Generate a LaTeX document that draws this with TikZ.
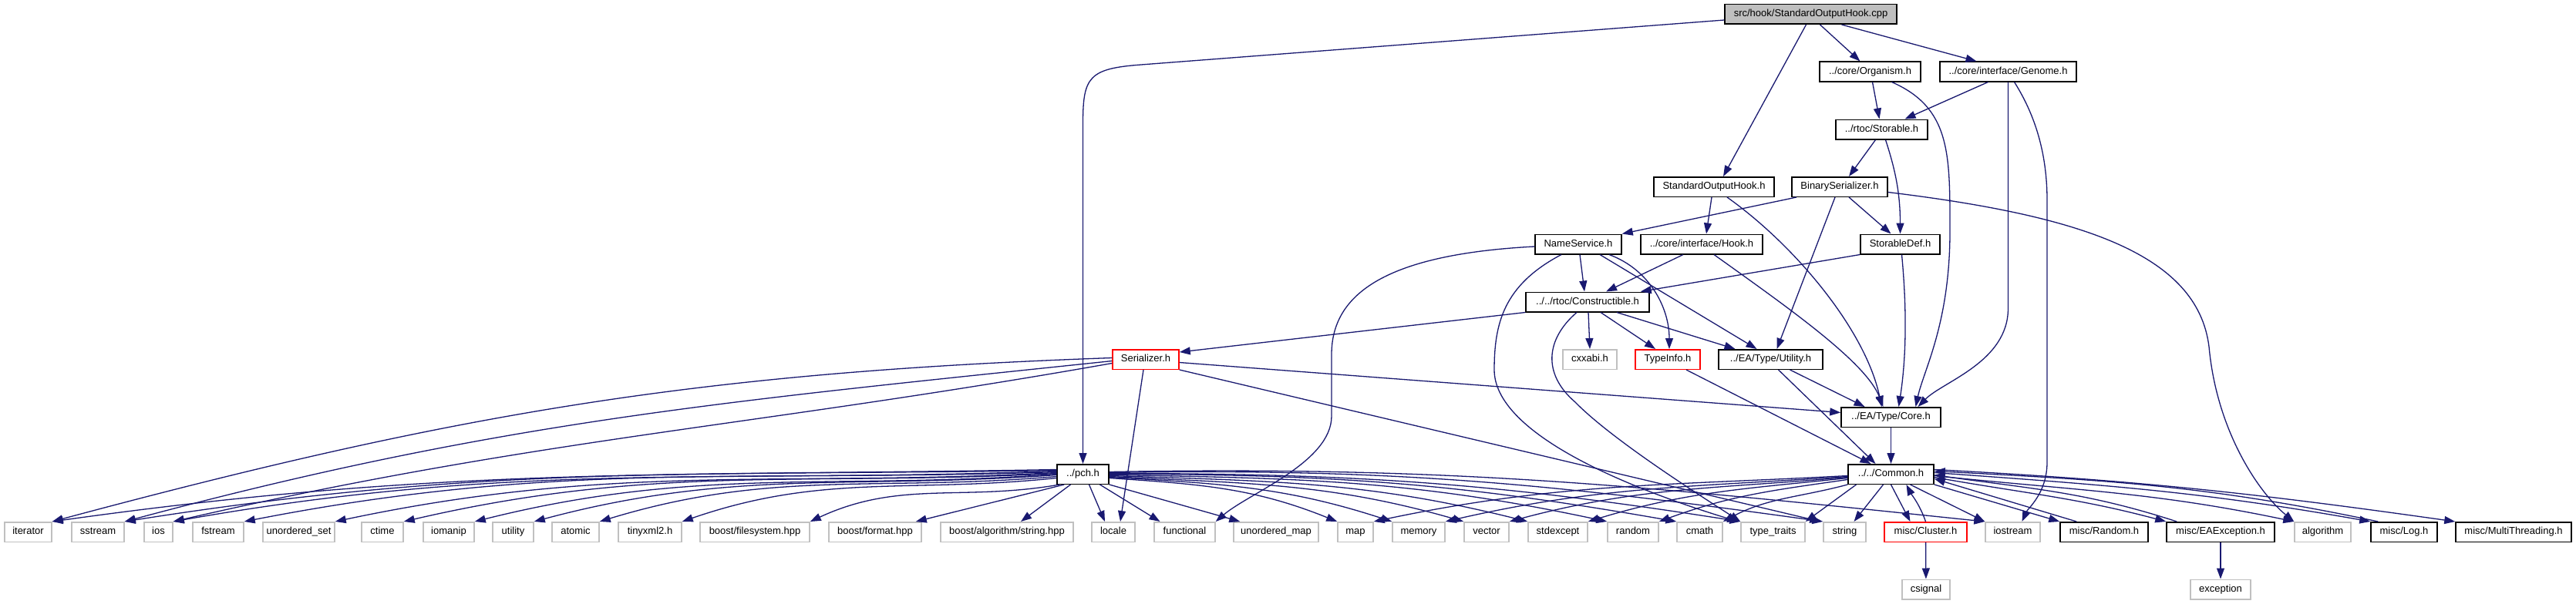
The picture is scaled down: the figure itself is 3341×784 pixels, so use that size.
\documentclass[tikz,border=0pt]{standalone}
\usepackage{fontspec}
\setmainfont{Liberation Sans}
\usetikzlibrary{arrows.meta}
\definecolor{edgeblue}{HTML}{191970}
\definecolor{rootgray}{HTML}{BFBFBF}
\definecolor{boxgray}{HTML}{C0C0C0}
\tikzset{
 base/.style={line width=1.5pt, fill=white, inner sep=0pt, minimum height=25.5pt,
   font=\fontsize{13pt}{15pt}\selectfont, text height=9.5pt, text depth=2.8pt},
 blackbox/.style={base, draw=black},
 graybox/.style={base, draw=boxgray},
 redbox/.style={base, draw=red},
 dep/.style={draw=edgeblue, line width=1.3pt, -{Triangle[length=14pt,width=10pt]}},
}
\begin{document}
\begin{tikzpicture}[x=1pt,y=1pt]
\fill[white] (0,0) rectangle (3341,-784);
\useasboundingbox (0,0) rectangle (3341,-784);

% upper nodes
\node[blackbox, fill=rootgray, minimum width=223pt] (root) at (2348.5,-18.5) {src/hook/StandardOutputHook.cpp};
\node[blackbox, minimum width=131pt] (org) at (2425.5,-93) {../core/Organism.h};
\node[blackbox, minimum width=177pt] (genome) at (2604.5,-93) {../core/interface/Genome.h};
\node[blackbox, minimum width=119pt] (storable) at (2440.5,-168) {../rtoc/Storable.h};
\node[blackbox, minimum width=156pt] (soh) at (2223,-242.5) {StandardOutputHook.h};
\node[blackbox, minimum width=124pt] (binser) at (2386,-242.5) {BinarySerializer.h};
\node[blackbox, minimum width=112pt] (namesvc) at (2047,-317) {NameService.h};
\node[blackbox, minimum width=158pt] (hook) at (2207,-317) {../core/interface/Hook.h};
\node[blackbox, minimum width=103pt] (stordef) at (2464.5,-317) {StorableDef.h};
\node[blackbox, minimum width=160pt] (constr) at (2059,-392) {../../rtoc/Constructible.h};
\node[redbox, minimum width=86pt] (serial) at (1486,-466.5) {Serializer.h};
\node[graybox, minimum width=70pt] (cxxabi) at (2062,-466.5) {cxxabi.h};
\node[redbox, minimum width=84pt] (typeinfo) at (2163,-466.5) {TypeInfo.h};
\node[blackbox, minimum width=135pt] (eautil) at (2296.5,-466.5) {../EA/Type/Utility.h};
\node[blackbox, minimum width=129pt] (core) at (2452.5,-541.5) {../EA/Type/Core.h};
\node[blackbox, minimum width=67pt] (pch) at (1404.5,-615.5) {../pch.h};
\node[blackbox, minimum width=111pt] (common) at (2452.5,-615.5) {../../Common.h};

% bottom row
\node[graybox, minimum width=61pt] (iterator) at (36.5,-690.5) {iterator};
\node[graybox, minimum width=68pt] (sstream) at (127,-690.5) {sstream};
\node[graybox, minimum width=37pt] (ios) at (205.5,-690.5) {ios};
\node[graybox, minimum width=66pt] (fstream) at (283,-690.5) {fstream};
\node[graybox, minimum width=93pt] (uset) at (387.5,-690.5) {unordered\_set};
\node[graybox, minimum width=54pt] (ctime) at (496,-690.5) {ctime};
\node[graybox, minimum width=66pt] (iomanip) at (582,-690.5) {iomanip};
\node[graybox, minimum width=53pt] (stdutility) at (665.5,-690.5) {utility};
\node[graybox, minimum width=61pt] (atomic) at (746.5,-690.5) {atomic};
\node[graybox, minimum width=82pt] (tinyxml) at (843,-690.5) {tinyxml2.h};
\node[graybox, minimum width=142pt] (bfs) at (979,-690.5) {boost/filesystem.hpp};
\node[graybox, minimum width=120pt] (bformat) at (1135,-690.5) {boost/format.hpp};
\node[graybox, minimum width=172pt] (balgo) at (1306,-690.5) {boost/algorithm/string.hpp};
\node[graybox, minimum width=56pt] (locale) at (1444,-690.5) {locale};
\node[graybox, minimum width=79pt] (functional) at (1536.5,-690.5) {functional};
\node[graybox, minimum width=110pt] (umap) at (1655,-690.5) {unordered\_map};
\node[graybox, minimum width=46pt] (map) at (1758,-690.5) {map};
\node[graybox, minimum width=68pt] (memory) at (1840,-690.5) {memory};
\node[graybox, minimum width=58pt] (vector) at (1928,-690.5) {vector};
\node[graybox, minimum width=77pt] (stdexcept) at (2020.5,-690.5) {stdexcept};
\node[graybox, minimum width=66pt] (random) at (2118,-690.5) {random};
\node[graybox, minimum width=59pt] (cmath) at (2204.5,-690.5) {cmath};
\node[graybox, minimum width=83pt] (typetraits) at (2299.5,-690.5) {type\_traits};
\node[graybox, minimum width=55pt] (string) at (2392.5,-690.5) {string};
\node[redbox, minimum width=107pt] (cluster) at (2497.5,-690.5) {misc/Cluster.h};
\node[graybox, minimum width=71pt] (iostream) at (2610.5,-690.5) {iostream};
\node[blackbox, minimum width=114pt] (mrandom) at (2729,-690.5) {misc/Random.h};
\node[blackbox, minimum width=140pt] (eaexc) at (2880,-690.5) {misc/EAException.h};
\node[graybox, minimum width=73pt] (algorithm) at (3012.5,-690.5) {algorithm};
\node[blackbox, minimum width=86pt] (log) at (3118,-690.5) {misc/Log.h};
\node[blackbox, minimum width=150pt] (multithr) at (3260,-690.5) {misc/MultiThreading.h};
\node[graybox, minimum width=62pt] (csignal) at (2498,-765) {csignal};
\node[graybox, minimum width=78pt] (exception) at (2880,-765) {exception};

% upper edges
\draw[dep] ([yshift=-7.5pt]root.west) -- (1480,-84) .. controls (1412,-89) and (1404.5,-100) .. (1404.5,-160) -- (pch.north);
\draw[dep] ([xshift=-6pt]root.south) -- ([xshift=12pt]soh.north);
\draw[dep] ([xshift=12pt]root.south) -- ([xshift=-13pt]org.north);
\draw[dep] ([xshift=40pt]root.south) -- ([xshift=-41pt]genome.north);
\draw[dep] ([xshift=3pt]org.south) -- ([xshift=-3pt]storable.north);
\draw[dep] ([xshift=-26pt]genome.south) -- ([xshift=30pt]storable.north);
\draw[dep] ([xshift=28pt]org.south) .. controls (2530,-140) and (2529,-200) .. (2529,-300) .. controls (2529,-420) and (2495,-480) .. ([xshift=32pt]core.north);
\draw[dep] (genome.south) -- (2604.5,-400) .. controls (2604.5,-470) and (2520,-495) .. ([xshift=35pt]core.north);
\draw[dep] ([xshift=8pt]genome.south) .. controls (2640,-150) and (2655,-200) .. (2655,-260) -- (2655,-600) .. controls (2655,-640) and (2630,-660) .. ([xshift=12pt]iostream.north);
\draw[dep] ([xshift=-8pt]storable.south) -- ([xshift=12pt]binser.north);
\draw[dep] ([xshift=5pt]storable.south) .. controls (2458,-220) and (2464.5,-250) .. (stordef.north);
\draw[dep] ([xshift=12pt]binser.south) -- ([xshift=-12pt]stordef.north);
\draw[dep] ([xshift=-56pt]binser.south) -- (namesvc.north east);
\draw[dep] ([xshift=-6pt]binser.south) -- ([xshift=8pt]eautil.north);
\draw[dep] ([yshift=-7pt]binser.east) .. controls (2700,-280) and (2850,-330) .. (2865,-450) .. controls (2875,-560) and (2930,-640) .. (algorithm.north west);
\draw[dep] ([xshift=-3pt]soh.south) -- ([xshift=6pt]hook.north);
\draw[dep] ([xshift=17pt]soh.south) .. controls (2330,-320) and (2420,-430) .. ([xshift=-12pt]core.north);
\draw[dep] ([xshift=-24pt]hook.south) -- ([xshift=24pt]constr.north);
\draw[dep] ([xshift=16pt]hook.south) .. controls (2320,-400) and (2420,-470) .. ([xshift=-10pt]core.north);
\draw[dep] (stordef.south west) -- ([xshift=-12pt]constr.north east);
\draw[dep] ([xshift=2pt]stordef.south) .. controls (2475,-420) and (2470,-480) .. ([xshift=10pt]core.north);
\draw[dep] ([xshift=2pt]namesvc.south) -- ([xshift=-4pt]constr.north);
\draw[dep] ([xshift=40pt]namesvc.south) .. controls (2140,-350) and (2165,-400) .. ([xshift=2pt]typeinfo.north);
\draw[dep] ([xshift=28pt]namesvc.south) -- ([xshift=-18pt]eautil.north);
\draw[dep] ([yshift=-3pt]namesvc.west) .. controls (1800,-330) and (1727,-380) .. (1727,-460) -- (1727,-540) .. controls (1727,-600) and (1620,-640) .. (functional.north east);
\draw[dep] ([xshift=-22pt]namesvc.south) .. controls (1950,-370) and (1938,-420) .. (1938,-480) .. controls (1938,-560) and (2100,-630) .. ([xshift=-3pt]typetraits.north west);
\draw[dep] ([xshift=-14pt]constr.south) .. controls (2005,-440) and (2000,-485) .. (2043,-522) .. controls (2090,-570) and (2200,-640) .. (typetraits.north west);
\draw[dep] (constr.south west) -- ([yshift=-4pt]serial.north east);
\draw[dep] ([xshift=1pt]constr.south) -- (cxxabi.north);
\draw[dep] ([xshift=17pt]constr.south) -- ([xshift=-16pt]typeinfo.north);
\draw[dep] ([xshift=38pt]constr.south) -- ([xshift=-46pt]eautil.north);
\draw[dep] ([xshift=24pt]typeinfo.south) -- ([xshift=-26pt]common.north);
\draw[dep] ([xshift=25pt]eautil.south) -- ([xshift=-34pt]core.north);
\draw[dep] ([xshift=10pt]eautil.south) -- ([xshift=-20pt]common.north);
\draw[dep] (core) -- (common);

% Serializer edges
\draw[dep] ([yshift=-4pt]serial.east) -- ([yshift=6pt]core.west);
\draw[dep] (serial.south east) -- ([xshift=-3pt]string.north west);
\draw[dep] ([xshift=-3pt]serial.south) -- ([xshift=9pt]locale.north);
\draw[dep] ([yshift=2pt]serial.west) .. controls +(-540,-19) and +(522,140) .. (iterator.north east);
\draw[dep] ([yshift=-2pt]serial.west) .. controls +(-502,-53) and +(488,131) .. (sstream.north east);
\draw[dep] ([yshift=-5pt]serial.west) .. controls +(-475,-84) and +(470,108) .. (ios.north east);

% pch edges
\draw[dep] ([yshift=6pt]pch.west) .. controls +(-510,-9) and +(505,71) .. (iterator.north east);
\draw[dep] ([yshift=5pt]pch.west) .. controls +(-473,-8) and +(467,74) .. (sstream.north east);
\draw[dep] ([yshift=4pt]pch.west) .. controls +(-448,-16) and +(441,78) .. (ios.north east);
\draw[dep] ([yshift=3pt]pch.west) .. controls +(-412,-14) and +(404,79) .. (fstream.north east);
\draw[dep] ([yshift=2pt]pch.west) .. controls +(-365,-19) and +(358,76) .. (uset.north east);
\draw[dep] ([yshift=1pt]pch.west) .. controls +(-331,-17) and +(323,75) .. (ctime.north east);
\draw[dep] (pch.west) .. controls +(-295,-21) and +(287,72) .. (iomanip.north east);
\draw[dep] ([yshift=-1pt]pch.west) .. controls +(-265,-19) and +(257,69) .. (stdutility.north east);
\draw[dep] ([yshift=-3pt]pch.west) .. controls +(-232,-20) and +(223,68) .. (atomic.north east);
\draw[dep] ([yshift=-5pt]pch.west) .. controls +(-191,-20) and +(182,63) .. (tinyxml.north east);
\draw[dep] ([xshift=4pt]pch.south west) .. controls +(-126,-22) and +(116,54) .. (bfs.north east);
\draw[dep] ([xshift=10pt]pch.south west) -- ([xshift=-8pt]bformat.north east);
\draw[dep] ([xshift=-16pt]pch.south) -- ([xshift=18pt]balgo.north);
\draw[dep] ([xshift=8pt]pch.south) -- ([xshift=-11pt]locale.north);
\draw[dep] ([xshift=22pt]pch.south) -- ([xshift=-32pt]functional.north);
\draw[dep] (pch.south east) -- ([xshift=9pt]umap.north west);
\draw[dep] ([yshift=-5pt]pch.east) .. controls +(118,-8) and +(-109,44) .. (map.north west);
\draw[dep] ([yshift=-4pt]pch.east) .. controls +(145,-8) and +(-138,45) .. (memory.north west);
\draw[dep] ([yshift=-3pt]pch.east) .. controls +(181,-9) and +(-174,50) .. (vector.north west);
\draw[dep] ([yshift=-2pt]pch.east) .. controls +(213,-7) and +(-207,52) .. (stdexcept.north west);
\draw[dep] ([yshift=-1pt]pch.east) .. controls +(253,-4) and +(-247,53) .. (random.north west);
\draw[dep] (pch.east) .. controls +(289,0) and +(-285,50) .. (cmath.north west);
\draw[dep] ([yshift=1pt]pch.east) .. controls +(321,0) and +(-317,50) .. (typetraits.north west);
\draw[dep] ([yshift=2pt]pch.east) .. controls +(362,6) and +(-358,50) .. (string.north west);
\draw[dep] ([yshift=3pt]pch.east) .. controls +(444,8) and +(-442,46) .. (iostream.north west);

% Common edges
\draw[dep] ([yshift=-2pt]common.west) .. controls +(-241,-13) and +(236,50) .. (map.north east);
\draw[dep] ([yshift=-3pt]common.west) .. controls +(-205,-14) and +(200,46) .. (memory.north east);
\draw[dep] ([yshift=-4pt]common.west) .. controls +(-172,-15) and +(167,45) .. (vector.north east);
\draw[dep] ([yshift=-5pt]common.west) .. controls +(-133,-14) and +(128,39) .. (stdexcept.north east);
\draw[dep] ([yshift=-7pt]common.west) .. controls +(-98,-14) and +(93,34) .. (random.north east);
\draw[dep] (common.south west) .. controls +(-64,-17) and +(58,31) .. (cmath.north east);
\draw[dep] ([xshift=-45pt]common.south) -- (typetraits.north east);
\draw[dep] ([xshift=-10pt]common.south) -- ([xshift=12pt]string.north);
\draw[dep] (common.south) -- ([xshift=-20pt]cluster.north);
\draw[dep] (cluster.north) .. controls (2490,-655) and (2478,-640) .. ([xshift=20pt]common.south);
\draw[dep] ([xshift=25pt]common.south) -- (iostream.north west);
\draw[dep] (common.south east) -- (mrandom.north west);
\draw[dep] ([xshift=22pt]mrandom.north west) -- ([yshift=-6pt]common.east);
\draw[dep] ([yshift=-4pt]common.east) .. controls +(118,-21) and +(-116,31) .. (eaexc.north west);
\draw[dep] ([xshift=14pt]eaexc.north west) .. controls +(-120,39) and +(125,-18) .. ([yshift=-1pt]common.east);
\draw[dep] ([yshift=-2pt]common.east) .. controls +(183,-19) and +(-180,38) .. (algorithm.north west);
\draw[dep] ([yshift=2pt]common.east) .. controls +(222,-16) and +(-220,39) .. (log.north west);
\draw[dep] ([xshift=10pt]log.north west) .. controls +(-222,47) and +(227,-12) .. ([yshift=4pt]common.east);
\draw[dep] ([yshift=6pt]common.east) .. controls +(265,-14) and +(-262,37) .. (multithr.north west);
\draw[dep] (cluster) -- (csignal);
\draw[dep] (eaexc) -- (exception);
\end{tikzpicture}
\end{document}
